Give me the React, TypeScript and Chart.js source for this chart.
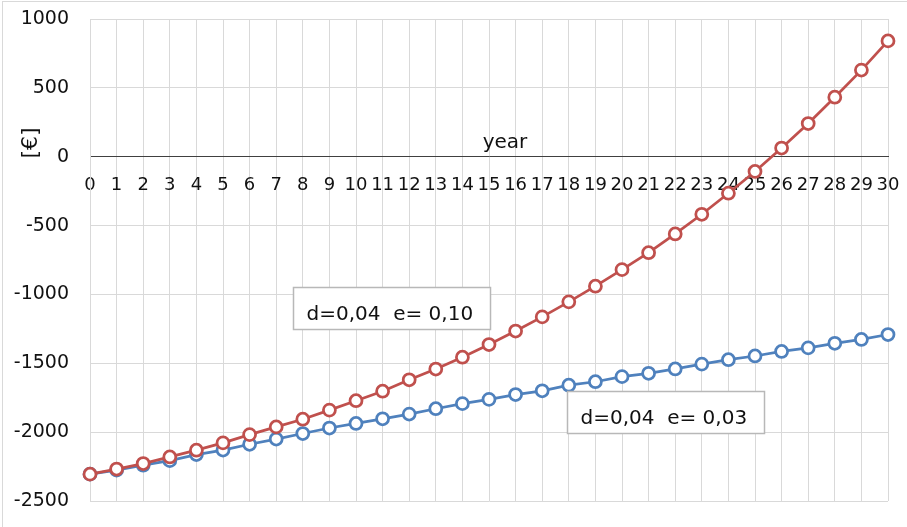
import React, { useEffect, useRef } from "react";
import { Chart, registerables } from "chart.js";

Chart.register(...registerables);

const years = ["0","1","2","3","4","5","6","7","8","9","10","11","12","13","14","15","16","17","18","19","20","21","22","23","24","25","26","27","28","29","30"];

const seriesHigh = [-2305, -2268, -2228, -2180, -2131, -2078, -2018, -1962, -1906, -1840, -1772, -1703, -1620, -1542, -1456, -1364, -1266, -1163, -1054, -940, -820, -697, -561, -418, -265, -107, 63, 241, 432, 629, 841];
const seriesLow = [-2305, -2276, -2240, -2207, -2163, -2130, -2088, -2050, -2010, -1970, -1937, -1903, -1869, -1830, -1793, -1762, -1727, -1700, -1659, -1634, -1597, -1573, -1541, -1506, -1474, -1447, -1414, -1388, -1355, -1327, -1291];

const labelHigh = "d=0,04  e= 0,10";
const labelLow = "d=0,04  e= 0,03";
const xTitle = "year";
const yTitle = "[€]";

const yMin = -2500;
const yMax = 1000;
const yStep = 500;

const FONT = '"DejaVu Sans", sans-serif';
const TEXT = "#111111";
const RED = "#C0504D";
const BLUE = "#4F81BD";
const GRID = "#d9d9d9";

// annotation anchors in data space: [category index, value]
const boxHighAnchor = [7.63, -945];
const boxLowAnchor = [17.93, -1700];
const xTitleAnchor = [15.6, 60];
const yTitleAnchor = 100;

const decor = {
  id: "decor",
  beforeDraw(chart: any) {
    const { ctx, width, height } = chart;
    ctx.save();
    ctx.fillStyle = "#ffffff";
    ctx.fillRect(0, 0, width, height);
    ctx.strokeStyle = GRID;
    ctx.lineWidth = 1;
    ctx.strokeRect(2.5, 1.5, width + 10, height + 10);
    ctx.restore();
  },
  afterDraw(chart: any) {
    const { ctx, chartArea } = chart;
    const x = chart.scales.x;
    const y = chart.scales.y;
    ctx.save();
    ctx.fillStyle = TEXT;
    // x title
    ctx.font = `20px ${FONT}`;
    ctx.textAlign = "center";
    ctx.textBaseline = "alphabetic";
    ctx.fillText(xTitle, x.getPixelForValue(xTitleAnchor[0]), y.getPixelForValue(xTitleAnchor[1]));
    // y title
    ctx.save();
    ctx.translate(chartArea.left - 59, y.getPixelForValue(yTitleAnchor));
    ctx.rotate(-Math.PI / 2);
    ctx.font = `22px ${FONT}`;
    ctx.textAlign = "center";
    ctx.textBaseline = "middle";
    ctx.fillText(yTitle, 0, 0);
    ctx.restore();
    // boxes
    const drawBox = (anchor: number[], text: string) => {
      ctx.font = `20px ${FONT}`;
      const w = ctx.measureText(text).width;
      const bx = Math.round(x.getPixelForValue(anchor[0])) + 0.5;
      const by = Math.round(y.getPixelForValue(anchor[1])) + 0.5;
      const bw = Math.round(w + 30);
      const bh = 42;
      ctx.fillStyle = "#ffffff";
      ctx.fillRect(bx, by, bw, bh);
      ctx.strokeStyle = "#b8b8b8";
      ctx.lineWidth = 1.5;
      ctx.strokeRect(bx, by, bw, bh);
      ctx.fillStyle = TEXT;
      ctx.textAlign = "left";
      ctx.textBaseline = "alphabetic";
      ctx.fillText(text, bx + 13, by + 32);
    };
    drawBox(boxHighAnchor, labelHigh);
    drawBox(boxLowAnchor, labelLow);
    ctx.restore();
  },
};

export default function App() {
  const ref = useRef<HTMLCanvasElement | null>(null);
  useEffect(() => {
    if (!ref.current) return;
    const chart = new Chart(ref.current, {
      type: "line",
      data: {
        labels: years,
        datasets: [
          {
            label: labelHigh,
            data: seriesHigh,
            borderColor: RED,
            backgroundColor: "#ffffff",
            pointBackgroundColor: "#ffffff",
            pointBorderColor: RED,
            pointRadius: 6,
            pointBorderWidth: 2.75,
            borderWidth: 2.75,
            tension: 0,
            clip: false as any,
          },
          {
            label: labelLow,
            data: seriesLow,
            borderColor: BLUE,
            backgroundColor: "#ffffff",
            pointBackgroundColor: "#ffffff",
            pointBorderColor: BLUE,
            pointRadius: 6,
            pointBorderWidth: 2.75,
            borderWidth: 2.75,
            tension: 0,
            clip: false as any,
          },
        ],
      },
      options: {
        animation: false,
        responsive: false,
        events: [],
        layout: { padding: { top: 19, right: 19, bottom: 26, left: 0 } },
        plugins: { legend: { display: false }, tooltip: { enabled: false }, title: { display: false } },
        scales: {
          x: {
            type: "category",
            position: { y: 0 } as any,
            offset: false,
            afterFit: (s: any) => { s.paddingLeft = 0; s.paddingRight = 0; },
            grid: { color: GRID, drawTicks: false, lineWidth: 1 },
            border: { color: "#404040", width: 1 },
            ticks: { autoSkip: false, maxRotation: 0, minRotation: 0, padding: 18, color: TEXT, font: { family: FONT, size: 18 } },
          },
          y: {
            type: "linear",
            min: yMin,
            max: yMax,
            afterFit: (s: any) => { s.width = 90; s.paddingTop = 0; s.paddingBottom = 0; },
            grid: { color: GRID, drawTicks: false, lineWidth: 1 },
            border: { color: GRID, width: 1 },
            ticks: {
              stepSize: yStep,
              padding: 21,
              color: TEXT,
              font: { family: FONT, size: 19 },
              callback: (v: any) => String(v),
            },
          },
        },
      },
      plugins: [decor],
    });
    return () => chart.destroy();
  }, []);
  return (
    <div style={{ position: "absolute", left: 0, top: 0, width: 907, height: 527, background: "#fff" }}>
      <canvas ref={ref} width={907} height={527} style={{ display: "block", width: 907, height: 527 }} />
    </div>
  );
}
